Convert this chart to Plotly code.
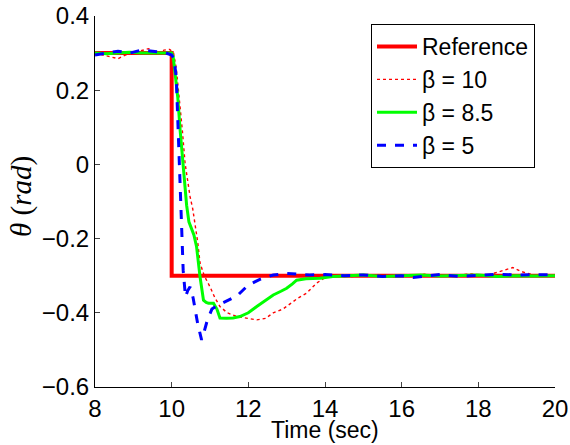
import plotly.graph_objects as go

# Reference step
t_ref = [8.0, 10.0, 10.0, 20.0]
y_ref = [0.3, 0.3, -0.3, -0.3]

# beta = 10 (red dotted)
t_b10 = [8.0, 8.2, 8.4, 8.6, 8.8, 9.0, 9.2, 9.4, 9.6, 9.8, 9.95, 10.05, 10.12, 10.2, 10.28, 10.35, 10.42, 10.48,
         10.55, 10.61, 10.68, 10.74, 10.85, 11.0, 11.13, 11.26, 11.45, 11.7, 11.95, 12.22, 12.45, 12.65, 12.9,
         13.09, 13.3, 13.52, 13.78, 14.0, 14.3, 14.7, 15.0, 15.4, 15.8, 16.2, 16.6, 17.0, 17.4, 17.8, 18.2,
         18.5, 18.7, 18.9, 19.1, 19.3, 19.5, 19.8, 20.0]
y_b10 = [0.30, 0.295, 0.29, 0.285, 0.295, 0.30, 0.305, 0.312, 0.30, 0.308, 0.31, 0.30, 0.26, 0.18, 0.09, 0.003,
         -0.05, -0.087, -0.12, -0.159, -0.21, -0.266, -0.30, -0.33, -0.36, -0.383, -0.40, -0.41, -0.415, -0.419,
         -0.415, -0.40, -0.39, -0.375, -0.36, -0.347, -0.32, -0.305, -0.298, -0.302, -0.30, -0.297, -0.303,
         -0.30, -0.296, -0.302, -0.298, -0.295, -0.30, -0.29, -0.285, -0.278, -0.288, -0.295, -0.30, -0.298, -0.30]

# beta = 8.5 (green)
t_b85 = [8.0, 8.3, 8.6, 8.9, 9.2, 9.5, 9.8, 10.0, 10.04, 10.1, 10.16, 10.22, 10.28, 10.34, 10.39, 10.45,
         10.52, 10.58, 10.65, 10.74, 10.83, 10.9, 10.96, 11.09, 11.18, 11.26, 11.43, 11.6, 11.78, 12.0, 12.22,
         12.45, 12.65, 12.85, 13.0, 13.15, 13.26, 13.5, 13.87, 14.2, 14.6, 15.0, 15.5, 16.0, 16.5, 17.0,
         17.5, 18.0, 18.5, 19.0, 19.5, 20.0]
y_b85 = [0.30, 0.298, 0.30, 0.302, 0.30, 0.30, 0.298, 0.30, 0.29, 0.24, 0.18, 0.093, 0.02, -0.042, -0.11,
         -0.155, -0.172, -0.19, -0.222, -0.303, -0.366, -0.372, -0.374, -0.374, -0.39, -0.414, -0.415, -0.414,
         -0.41, -0.40, -0.383, -0.367, -0.352, -0.342, -0.334, -0.322, -0.312, -0.308, -0.307, -0.302, -0.30,
         -0.298, -0.302, -0.30, -0.298, -0.301, -0.30, -0.298, -0.302, -0.30, -0.301, -0.30]

# beta = 5 (blue dashed)
t_b5 = [8.0, 8.3, 8.6, 8.9, 9.2, 9.5, 9.8, 10.0, 10.06, 10.12, 10.17, 10.22, 10.26, 10.30, 10.36, 10.42,
        10.48, 10.56, 10.68, 10.78, 10.85, 10.93, 11.05, 11.2, 11.4, 11.7, 12.0, 12.3, 12.65, 13.0, 13.3,
        13.6, 14.0, 14.5, 15.0, 15.5, 16.0, 16.3, 16.7, 17.0, 17.5, 18.0, 18.5, 19.0, 19.5, 20.0]
y_b5 = [0.295, 0.30, 0.305, 0.30, 0.308, 0.305, 0.302, 0.295, 0.285, 0.235, 0.093, -0.042, -0.177, -0.285,
        -0.357, -0.34, -0.33, -0.36, -0.43, -0.473, -0.45, -0.42, -0.39, -0.38, -0.37, -0.355, -0.325, -0.31,
        -0.298, -0.294, -0.296, -0.298, -0.297, -0.30, -0.298, -0.302, -0.30, -0.305, -0.30, -0.297, -0.302,
        -0.298, -0.296, -0.298, -0.297, -0.297]

x_ticks = [8, 10, 12, 14, 16, 18, 20]
y_ticks = [-0.6, -0.4, -0.2, 0, 0.2, 0.4]
y_tick_labels = ["−0.6", "−0.4", "−0.2", "0", "0.2", "0.4"]

fig = go.Figure()
fig.add_trace(go.Scatter(x=t_ref, y=y_ref, mode="lines", name="Reference",
                         line=dict(color="#ff0000", width=4)))
fig.add_trace(go.Scatter(x=t_b10, y=y_b10, mode="lines", name="β = 10",
                         line=dict(color="#ff0000", width=1.4, dash="dot")))
fig.add_trace(go.Scatter(x=t_b85, y=y_b85, mode="lines", name="β = 8.5",
                         line=dict(color="#00ff00", width=3)))
fig.add_trace(go.Scatter(x=t_b5, y=y_b5, mode="lines", name="β = 5",
                         line=dict(color="#0000ff", width=3, dash="dash")))

font_main = "Liberation Sans, Arial, sans-serif"
L, R, T, B = 95, 15, 16, 58
W, H = 570, 445
pw, ph = W - L - R, H - T - B
fig.update_layout(
    width=W, height=H,
    margin=dict(l=L, r=R, t=T, b=B, autoexpand=False),
    paper_bgcolor="white", plot_bgcolor="white",
    font=dict(family=font_main, size=24, color="black"),
    showlegend=True,
    legend=dict(x=(371 - L) / pw, y=1 - (24 - T) / ph, xanchor="left", yanchor="top",
                bgcolor="white", bordercolor="black", borderwidth=1,
                font=dict(size=23), tracegroupgap=0, itemwidth=40),
    xaxis=dict(range=[8, 20], tickvals=x_ticks, ticks="inside", ticklen=5,
               showgrid=False, zeroline=False, showline=True, linecolor="black", linewidth=1,
               tickfont=dict(size=24), automargin=False),
    yaxis=dict(range=[-0.6, 0.4], tickmode="array", tickvals=y_ticks, ticktext=y_tick_labels,
               ticks="inside", ticklen=5,
               showgrid=False, zeroline=False, showline=True, linecolor="black", linewidth=1,
               tickfont=dict(size=24), automargin=False),
    annotations=[
        dict(text="Time (sec)", xref="paper", yref="paper", x=0.5, y=-(H - T - ph) / ph,
             xanchor="center", yanchor="bottom", showarrow=False,
             font=dict(size=23, family=font_main)),
        dict(text="<i>θ</i> (<i>rad</i>)", xref="paper", yref="paper",
             x=-(L - 22) / pw, y=1 - (197 - T) / ph, xanchor="center", yanchor="middle",
             textangle=-90, showarrow=False,
             font=dict(size=29, family="Liberation Serif, Times New Roman, serif")),
    ],
)

fig.write_html("out.html")
